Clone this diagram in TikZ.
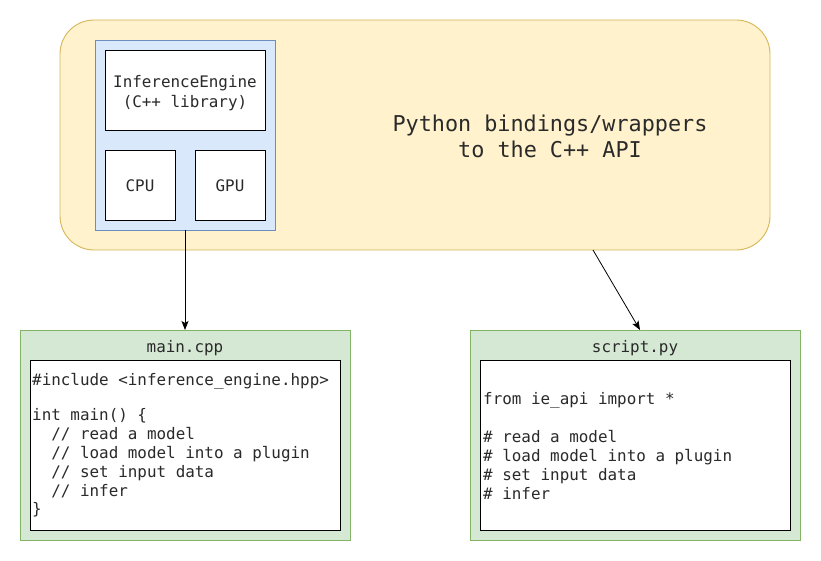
\documentclass[tikz,border=0pt]{standalone}
\usepackage{fontspec}
\setmonofont{DejaVu Sans Mono}
\usetikzlibrary{arrows.meta,calc}
\definecolor{yfill}{HTML}{FFF2CC}
\definecolor{ydraw}{HTML}{D6B656}
\definecolor{bfill}{HTML}{DAE8FC}
\definecolor{bdraw}{HTML}{6C8EBF}
\definecolor{gfill}{HTML}{D5E8D4}
\definecolor{gdraw}{HTML}{82B366}
\definecolor{txt}{HTML}{2A2A2A}
\begin{document}
\begin{tikzpicture}[x=1pt,y=-1pt,
  box/.style={draw, line width=0.9pt, inner sep=0pt, outer sep=0pt},
  whitebox/.style={box, draw=black, fill=white},
  codefont/.style={font=\ttfamily\fontsize{15.9}{19}\selectfont, text=txt, inner sep=0pt},
  codeline/.style={codefont, anchor=base west},
  label/.style={codefont, anchor=base},
  arr/.style={-{Stealth[length=9pt,width=7pt,inset=2pt]}, line width=0.8pt, black}]
\useasboundingbox (0,0) rectangle (821,561);

% yellow container
\node[box, draw=ydraw, fill=yfill, rounded corners=34pt, minimum width=710pt, minimum height=230pt] (yellow) at (415,135) {};
% blue container
\node[box, draw=bdraw, fill=bfill, minimum width=180pt, minimum height=190pt] (blue) at (185,135) {};
\node[whitebox, minimum width=160pt, minimum height=80pt] (ie) at (185,90) {};
\node[label] (ie1) at (185,88) {InferenceEngine};
\node[label] (ie2) at (185,108) {(C++ library)};
\node[whitebox, minimum width=70pt, minimum height=70pt] (cpu) at (140,185) {};
\node[label] (cpul) at (140,192) {CPU};
\node[whitebox, minimum width=70pt, minimum height=70pt] (gpu) at (230,185) {};
\node[label] (gpul) at (230,192) {GPU};

\node[codefont, font=\ttfamily\fontsize{21.8}{26}\selectfont, anchor=base] (py1) at (550,132) {Python bindings/wrappers};
\node[codefont, font=\ttfamily\fontsize{21.8}{26}\selectfont, anchor=base] (py2) at (550,158) {to the C++ API};

% main.cpp
\node[box, draw=gdraw, fill=gfill, minimum width=330pt, minimum height=210pt] (mainbox) at (185,435) {};
\node[label] (maintitle) at (185,352) {main.cpp};
\node[whitebox, minimum width=310pt, minimum height=170pt] (maincode) at (185,445) {};
\node[codeline] (m1) at (32,385) {\#include <inference\_engine.hpp>};
\node[codeline] (m2) at (32,420) {int main() \{};
\node[codeline] (m3) at (32,439) {\phantom{mm}// read a model};
\node[codeline] (m4) at (32,458) {\phantom{mm}// load model into a plugin};
\node[codeline] (m5) at (32,477) {\phantom{mm}// set input data};
\node[codeline] (m6) at (32,496) {\phantom{mm}// infer};
\node[codeline] (m7) at (32,514) {\}};

% script.py
\node[box, draw=gdraw, fill=gfill, minimum width=330pt, minimum height=210pt] (pybox) at (635,435) {};
\node[label] (pytitle) at (635,352) {script.py};
\node[whitebox, minimum width=310pt, minimum height=170pt] (pycode) at (635,445) {};
\node[codeline] (s1) at (483,404) {from ie\_api import *};
\node[codeline] (s2) at (483,442) {\# read a model};
\node[codeline] (s3) at (483,461) {\# load model into a plugin};
\node[codeline] (s4) at (483,480) {\# set input data};
\node[codeline] (s5) at (483,499) {\# infer};

% connectors
\draw[arr] (blue.south) -- (mainbox.north);
\draw[arr] ($(yellow.south)+(178,0)$) -- ($(pybox.north)+(5,0)$);
\end{tikzpicture}
\end{document}
